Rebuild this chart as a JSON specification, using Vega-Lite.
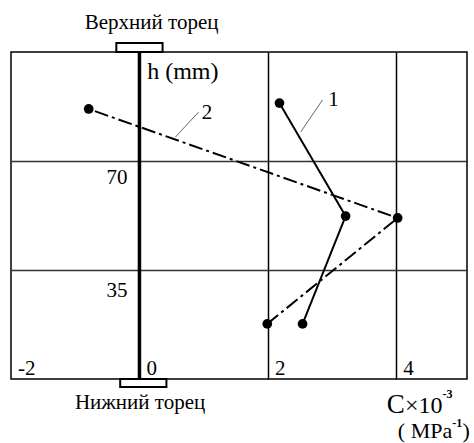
{
  "$schema": "https://vega.github.io/schema/vega-lite/v6.json",
  "width": 456,
  "height": 327,
  "autosize": "none",
  "padding": {"left": 11, "top": 52, "right": 7, "bottom": 64},
  "background": "white",
  "config": {
    "view": {"stroke": "black", "strokeWidth": 1.5},
    "font": "Liberation Serif",
    "text": {"font": "Liberation Serif", "color": "black"}
  },
  "encoding": {
    "x": {
      "field": "c", "type": "quantitative",
      "scale": {"domain": [-2, 5.1], "nice": false, "zero": false},
      "axis": {"values": [2, 4], "grid": true, "gridColor": "black", "gridWidth": 1.5, "domain": false, "ticks": false, "labels": false, "title": null}
    },
    "y": {
      "field": "h", "type": "quantitative",
      "scale": {"domain": [0, 105], "nice": false, "zero": false},
      "axis": {"values": [35, 70], "grid": true, "gridColor": "#333", "gridWidth": 1.5, "domain": false, "ticks": false, "labels": false, "title": null}
    }
  },
  "layer": [
    {
      "data": {"values": [{"c": 0, "h": 0, "h2": 105}]},
      "mark": {"type": "rule", "strokeWidth": 3.5, "color": "black"},
      "encoding": {"y2": {"field": "h2"}}
    },
    {
      "data": {"values": [{"c": -0.36, "c2": 0.36, "h": 105, "h2": 107.9}, {"c": -0.3, "c2": 0.42, "h": 0, "h2": -2.6}]},
      "mark": {"type": "rect", "fill": "white", "stroke": "black", "strokeWidth": 2},
      "encoding": {"x2": {"field": "c2"}, "y2": {"field": "h2"}}
    },
    {
      "data": {"name": "pts", "values": [
        {"s": "1", "c": 2.18, "h": 88.6},
        {"s": "1", "c": 3.21, "h": 52.3},
        {"s": "1", "c": 2.54, "h": 17.7},
        {"s": "2", "c": -0.79, "h": 86.7},
        {"s": "2", "c": 4.02, "h": 51.7},
        {"s": "2", "c": 1.99, "h": 17.7}
      ]},
      "layer": [
        {
          "mark": {"type": "line", "color": "black", "strokeWidth": 2},
          "encoding": {
            "detail": {"field": "s"},
            "order": {"field": "h"},
            "strokeDash": {"field": "s", "type": "nominal", "scale": {"domain": ["1", "2"], "range": [[1, 0], [14, 4, 3, 4]]}, "legend": null}
          }
        },
        {
          "mark": {"type": "circle", "color": "black", "opacity": 1, "size": 95}
        }
      ]
    },
    {
      "data": {"values": [{"c": 2.85, "h": 89.6, "c2": 2.51, "h2": 79.3}, {"c": 0.92, "h": 85.7, "c2": 0.56, "h2": 77.7}]},
      "mark": {"type": "rule", "color": "#666", "strokeWidth": 1},
      "encoding": {"x2": {"field": "c2"}, "y2": {"field": "h2"}}
    },
    {
      "data": {"values": [
        {"c": -2, "h": 0, "t": "-2"},
        {"c": 0, "h": 0, "t": "0"},
        {"c": 2, "h": 0, "t": "2"},
        {"c": 4, "h": 0, "t": "4"}
      ]},
      "mark": {"type": "text", "align": "left", "baseline": "alphabetic", "dx": 7, "dy": -4, "fontSize": 21},
      "encoding": {"text": {"field": "t"}}
    },
    {
      "data": {"values": [
        {"c": 0, "h": 62.6, "t": "70"},
        {"c": 0, "h": 26.3, "t": "35"}
      ]},
      "mark": {"type": "text", "align": "right", "baseline": "alphabetic", "dx": -12, "fontSize": 21},
      "encoding": {"text": {"field": "t"}}
    },
    {
      "data": {"values": [
        {"c": 2.94, "h": 87.7, "t": "1"},
        {"c": 0.97, "h": 83.5, "t": "2"}
      ]},
      "mark": {"type": "text", "align": "left", "baseline": "alphabetic", "fontSize": 21},
      "encoding": {"text": {"field": "t"}}
    },
    {
      "data": {"values": [
        {"c": 4.87, "h": -18.9, "t": "( MPa"}
      ]},
      "mark": {"type": "text", "align": "right", "baseline": "alphabetic", "fontSize": 22},
      "encoding": {"text": {"field": "t"}}
    },
    {
      "data": {"values": [
        {"c": 5.03, "h": -18.9, "t": ")"}
      ]},
      "mark": {"type": "text", "align": "left", "baseline": "alphabetic", "fontSize": 22},
      "encoding": {"text": {"field": "t"}}
    },
    {
      "data": {"values": [
        {"c": 4.72, "h": -10.9, "t": "×10"}
      ]},
      "mark": {"type": "text", "align": "right", "baseline": "alphabetic", "fontSize": 24},
      "encoding": {"text": {"field": "t"}}
    },
    {
      "data": {"values": [
        {"c": 3.85, "h": -10.9, "t": "C"}
      ]},
      "mark": {"type": "text", "align": "left", "baseline": "alphabetic", "fontSize": 27},
      "encoding": {"text": {"field": "t"}}
    },
    {
      "data": {"values": [
        {"c": 4.72, "h": -6.1, "t": "-3"},
        {"c": 4.87, "h": -15.4, "t": "-1"}
      ]},
      "mark": {"type": "text", "align": "left", "baseline": "alphabetic", "fontSize": 12, "fontWeight": "bold"},
      "encoding": {"text": {"field": "t"}}
    },
    {
      "data": {"values": [
        {"c": 0.12, "h": 96.3, "t": "h (mm)"}
      ]},
      "mark": {"type": "text", "align": "left", "baseline": "alphabetic", "fontSize": 24},
      "encoding": {"text": {"field": "t"}}
    },
    {
      "data": {"values": [
        {"c": 0.19, "h": 112.4, "t": "Верхний торец"},
        {"c": 0.01, "h": -9.6, "t": "Нижний торец"}
      ]},
      "mark": {"type": "text", "align": "center", "baseline": "alphabetic", "fontSize": 21},
      "encoding": {"text": {"field": "t"}}
    }
  ]
}
